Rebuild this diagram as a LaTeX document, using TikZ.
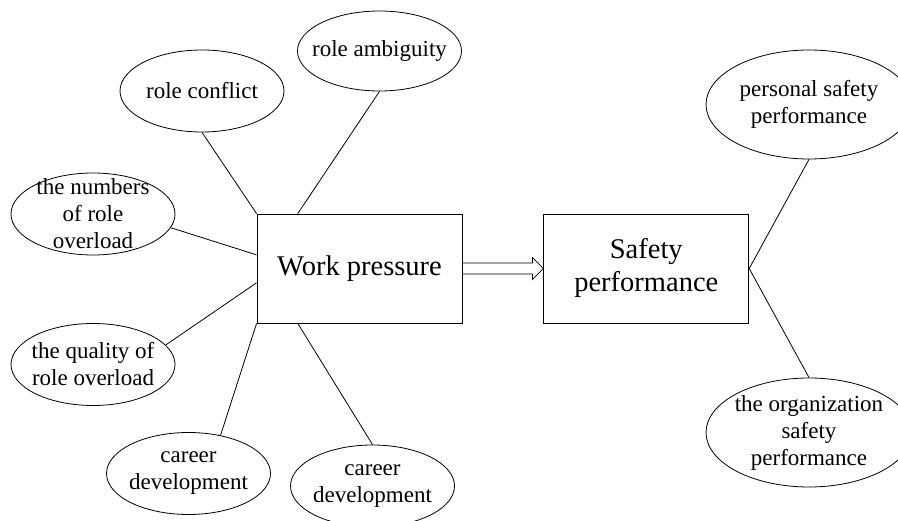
\documentclass[tikz,border=0pt]{standalone}
\usepackage{fontspec}
\setmainfont{Liberation Serif}
\usetikzlibrary{shapes.geometric,positioning,calc}

\begin{document}
\begin{tikzpicture}[x=1pt,y=-1pt,thick,
        box node/.style={rectangle,draw,minimum width=205pt,minimum height=109pt,
            inner sep=0pt,align=center,font=\fontsize{28.5}{33}\selectfont},
        oval node/.style={ellipse,draw,minimum width=164pt,minimum height=82pt,inner sep=0pt},
        wide oval/.style={oval node,minimum width=206pt,minimum height=109pt},
        oval text/.style={align=center,inner sep=0pt,font=\fontsize{23}{27}\selectfont}]

    \useasboundingbox (0,0) rectangle (898,521);

    \node[box node] (wp) at (359.5,268.5) {Work pressure};
    \node[box node] (sp) [right=81pt of wp] {Safety\\performance};

    \node[oval node,label={[oval text]center:role conflict}] (rc) at (202,91) {};
    \node[oval node,minimum height=80pt,label={[oval text]center:role ambiguity}] (ra) at (379.5,51) {};
    \node[oval node,label={[oval text]center:{the numbers\\of role\\overload}}] (nr) at (93,214) {};
    \node[oval node,label={[oval text]center:{the quality of\\role overload}}] (qr) at (93,364.5) {};
    \node[oval node,label={[oval text]center:{career\\development}}] (cd1) at (188.5,473.5) {};
    \node[oval node,label={[oval text]center:{career\\development}}] (cd2) at (372.5,486) {};
    \node[wide oval,label={[oval text]center:{personal safety\\performance}}] (ps) at (809,104.5) {};
    \node[wide oval,label={[oval text]center:{the organization\\safety\\performance}}] (os) at (809,432.5) {};

    \path
    (rc.south) edge (wp.north west)
    (ra.south) edge ($(wp.north west)!0.2!(wp.north east)$)
    (nr.-10) edge ($(wp.north west)!0.376!(wp.south west)$)
    (qr.15) edge ($(wp.north west)!0.63!(wp.south west)$)
    (cd1.50) edge (wp.south west)
    (cd2.north) edge ($(wp.south west)!0.2!(wp.south east)$);
    \path
    (ps.south) edge (sp.east)
    (os.north) edge (sp.east);

    % hollow arrow between the two boxes
    \draw ($(wp.east)+(0,-5.5)$) -- ($(sp.west)+(-11,-5.5)$) -- ($(sp.west)+(-11,-11)$)
        -- (sp.west) -- ($(sp.west)+(-11,11)$) -- ($(sp.west)+(-11,5.5)$)
        -- ($(wp.east)+(0,5.5)$);
\end{tikzpicture}
\end{document}
